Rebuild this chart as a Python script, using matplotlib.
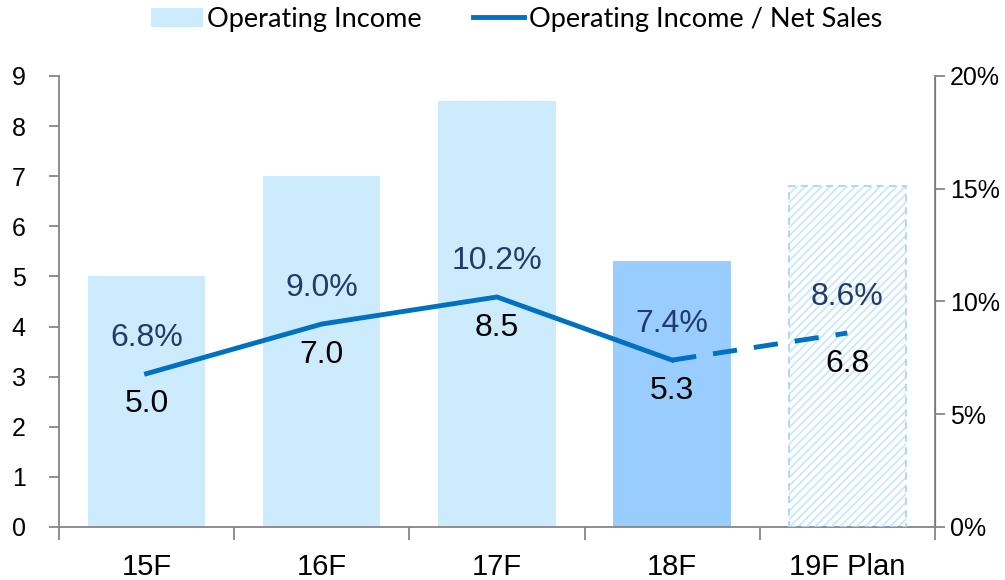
import matplotlib.pyplot as plt
from matplotlib.patches import Patch
from matplotlib.lines import Line2D
from matplotlib.ticker import FuncFormatter

# data
years = ["15F", "16F", "17F", "18F", "19F Plan"]
income = [5.0, 7.0, 8.5, 5.3, 6.8]
margin = [6.8, 9.0, 10.2, 7.4, 8.6]

light = "#CCEBFD"
dark = "#99CCFF"
line_col = "#0070C0"
pct_col = "#1F3C6B"
grey = "#868686"

plt.rcParams['font.family'] = ['Liberation Sans', 'DejaVu Sans']
plt.rcParams['hatch.linewidth'] = 1.2

fig = plt.figure(figsize=(10.05, 5.8), dpi=100)
ax = fig.add_axes([0.0587, 0.0914, 0.8716, 0.7776])
ax2 = ax.twinx()

x = list(range(len(years)))
cols = [light, light, light, dark, "white"]
ax.bar(x[:4], income[:4], width=0.67, color=cols[:4], zorder=2)
# plan bar: hatched with dashed outline
ax.bar(x[4], income[4], width=0.67, color="white", hatch="////",
       edgecolor="#C6E6FB", linewidth=0, zorder=2)
ax.bar(x[4], income[4], width=0.67, fill=False, edgecolor="#A8D4F8",
       linestyle=(0, (4, 3)), linewidth=1.3, zorder=3)

ax.set_xlim(-0.5, 4.5)
ax.set_ylim(0, 9)
ax.set_yticks(range(0, 10))
ax.set_xticks(x)
ax.set_xticklabels(years, fontsize=21)
ax.set_xticks([i + 0.5 for i in range(-1, 5)], minor=True)
ax.tick_params(axis="x", which="major", length=0, pad=19)
ax.tick_params(axis="x", which="minor", length=9, color=grey, width=1.3, direction="out")
ax.tick_params(axis="y", labelsize=18, length=7, color=grey, width=1.3, pad=17)

ax2.plot(x[:4], margin[:4], color=line_col, lw=3.5, zorder=4)
ax2.plot(x[3:], margin[3:], color=line_col, lw=3.5, ls=(0, (5, 3.5)), zorder=4)
ax2.set_ylim(0, 20)
ax2.set_yticks([0, 5, 10, 15, 20])
ax2.yaxis.set_major_formatter(FuncFormatter(lambda v, p: "%d%%" % v))
ax2.tick_params(axis="y", labelsize=18, length=7, color=grey, width=1.3, pad=4)

for s in ["top"]:
    ax.spines[s].set_visible(False)
    ax2.spines[s].set_visible(False)
for s in ["left", "bottom"]:
    ax.spines[s].set_color(grey)
    ax.spines[s].set_linewidth(1.3)
ax2.spines["right"].set_color(grey)
ax2.spines["right"].set_linewidth(1.3)
ax2.spines["left"].set_visible(False)
ax2.spines["bottom"].set_visible(False)

for i in x:
    ax2.annotate("%.1f%%" % margin[i], (i, margin[i]), xytext=(0, 26),
                 textcoords="offset points", ha="center", va="center",
                 fontsize=23, color=pct_col, zorder=5)
    ax2.annotate("%.1f" % income[i], (i, margin[i]), xytext=(0, -22),
                 textcoords="offset points", ha="center", va="center",
                 fontsize=23, color="black", zorder=5)

handles = [Patch(facecolor=light, edgecolor="none"),
           Line2D([0], [0], color=line_col, lw=3.5)]
fig.legend(handles, ["Operating Income", "Operating Income / Net Sales"],
           loc="upper center", bbox_to_anchor=(0.514, 1.03), ncol=2, frameon=False,
           prop={"family": "Lato", "size": 19.5}, handlelength=1.9,
           handletextpad=0.15, columnspacing=1.9)

fig.savefig("out.png", dpi=100)
